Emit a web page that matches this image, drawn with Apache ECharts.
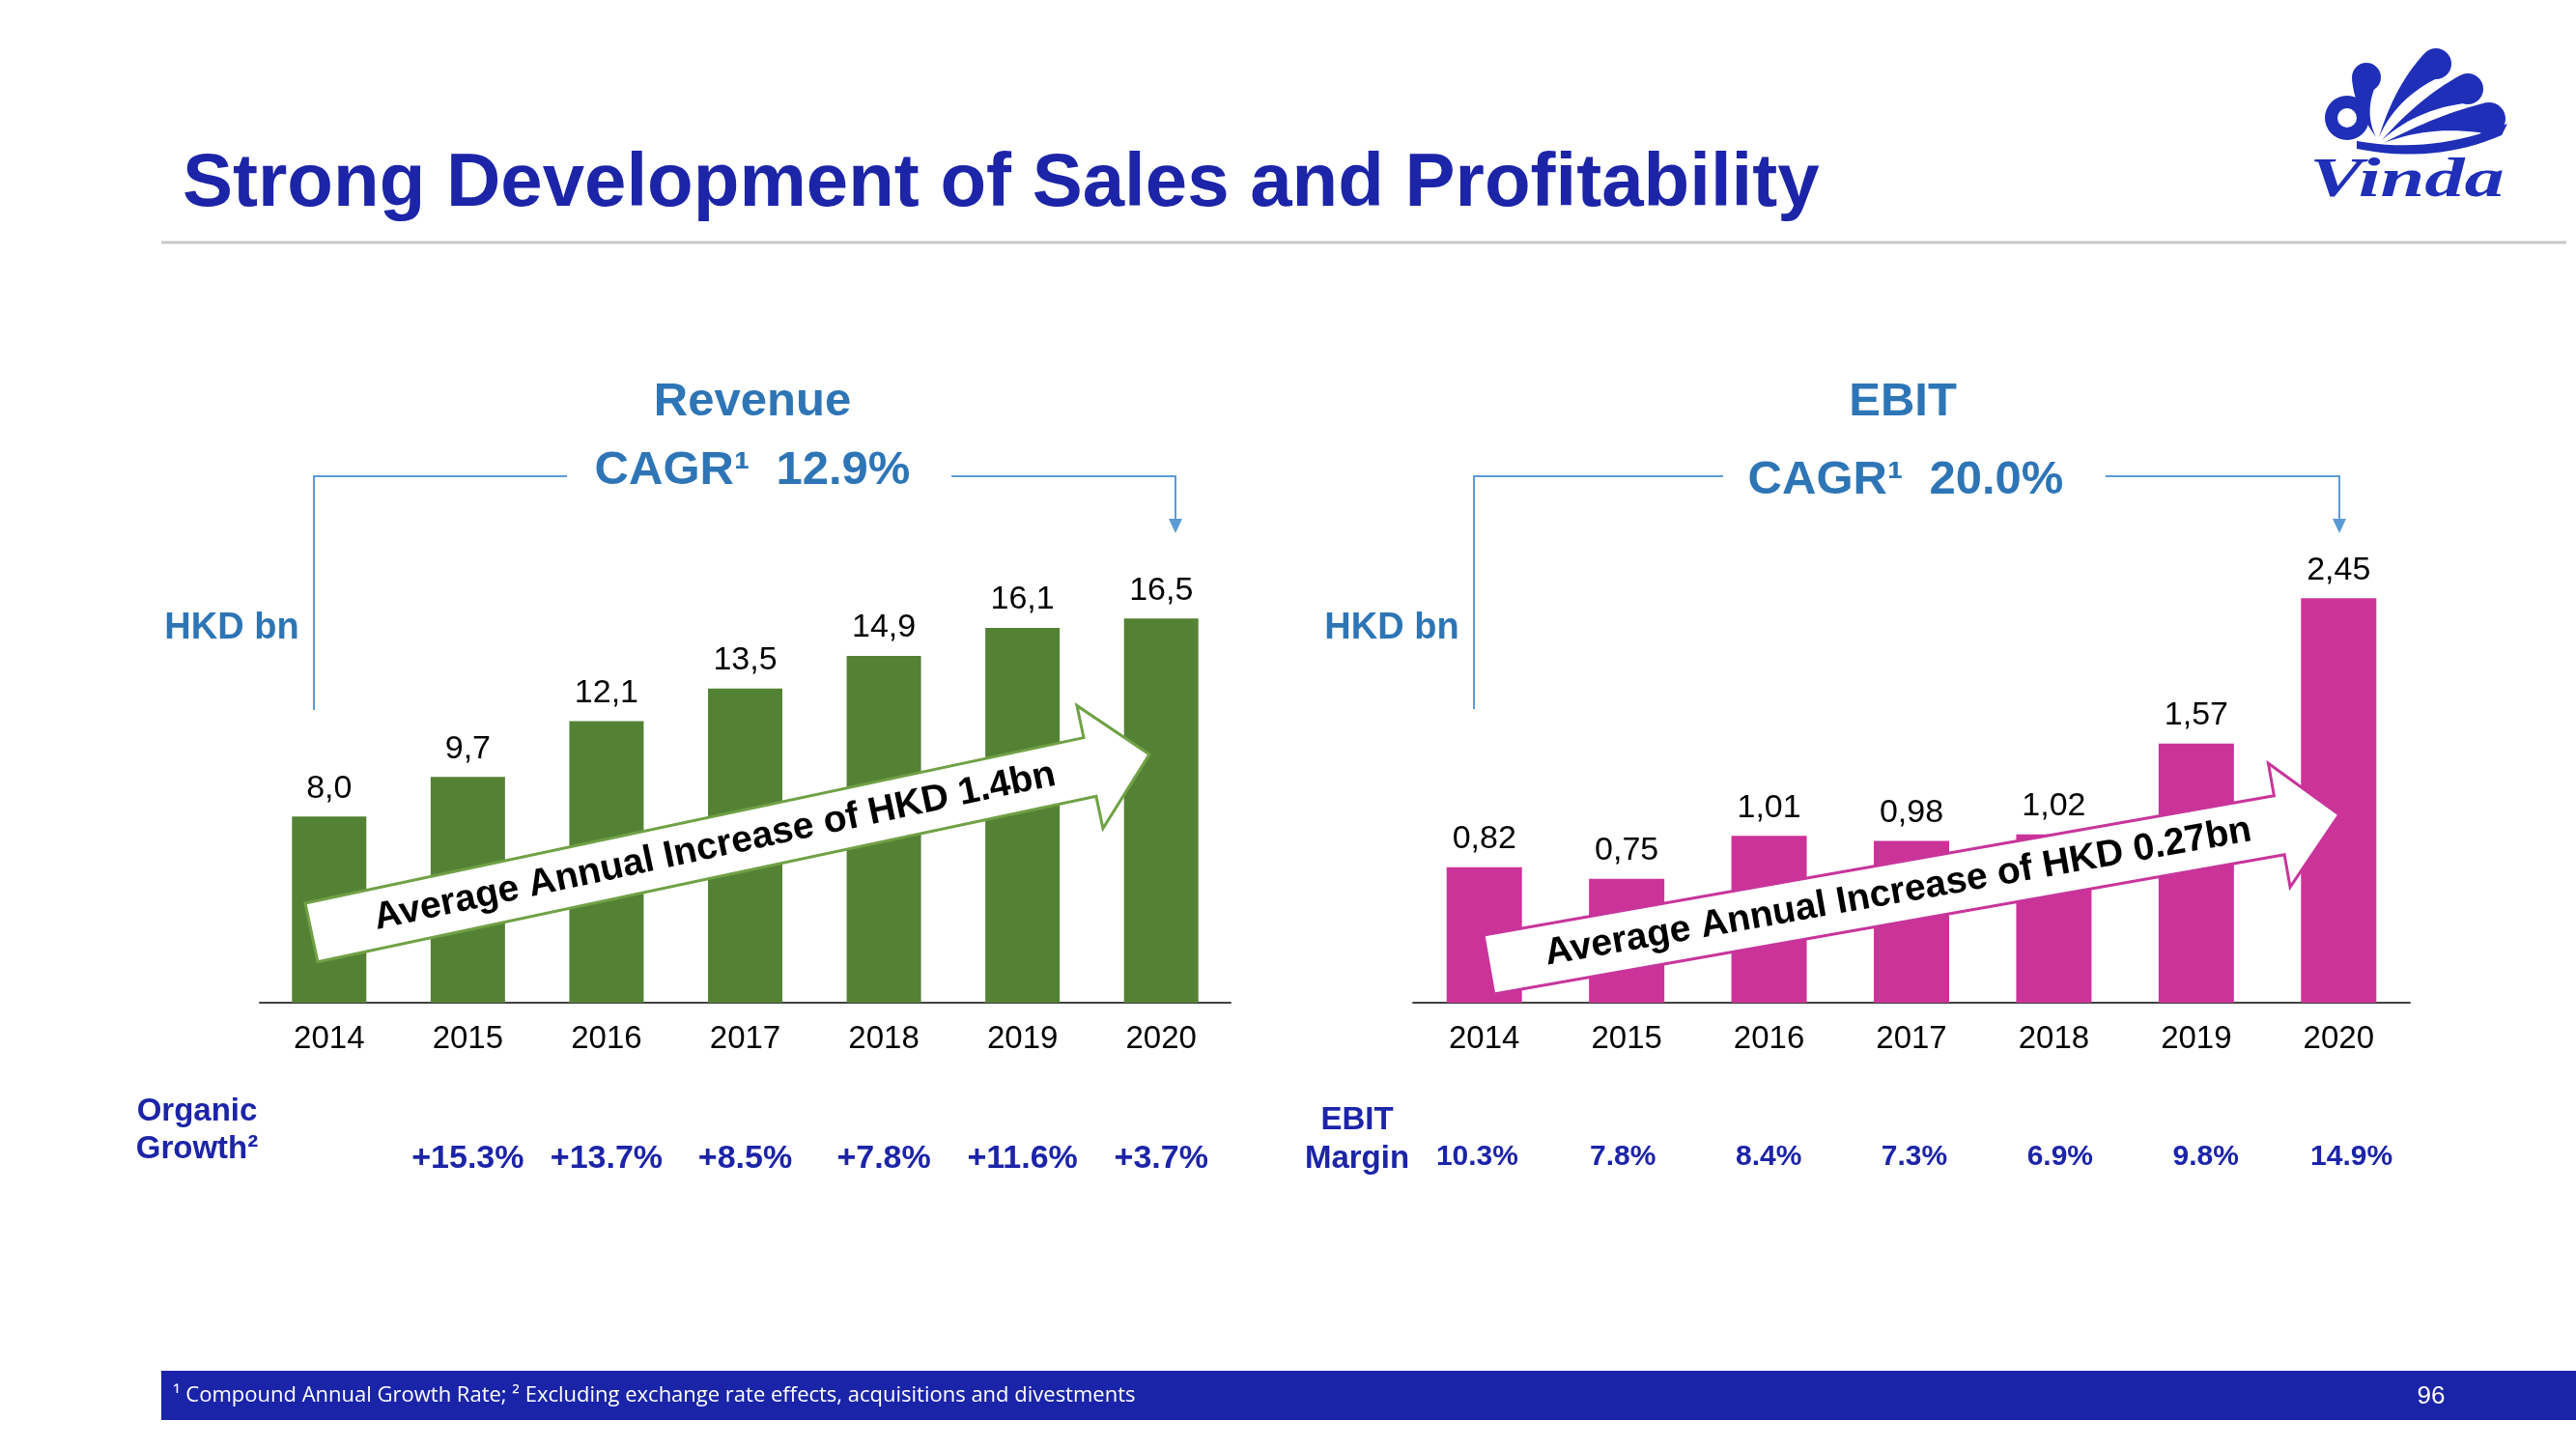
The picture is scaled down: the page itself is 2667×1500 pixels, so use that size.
<!DOCTYPE html>
<html>
<head>
<meta charset="utf-8">
<script src="https://cdn.jsdelivr.net/npm/echarts@6/dist/echarts.min.js"></script>
<style>
html,body{margin:0;padding:0;background:#fff;}
#chart{width:2667px;height:1500px;}
</style>
</head>
<body>
<div id="chart"></div>
<script>
// ---- data ----
const years = ['2014', '2015', '2016', '2017', '2018', '2019', '2020'];
const revenue = [8.0, 9.7, 12.1, 13.5, 14.9, 16.1, 16.5];
const ebit = [0.82, 0.75, 1.01, 0.98, 1.02, 1.57, 2.45];
const organicGrowth = ['', '+15.3%', '+13.7%', '+8.5%', '+7.8%', '+11.6%', '+3.7%'];
const ebitMargin = ['10.3%', '7.8%', '8.4%', '7.3%', '6.9%', '9.8%', '14.9%'];

const FONT = '"Liberation Sans", Arial, sans-serif';
const DARK = '#1c24a8';
const STEEL = '#2e75b6';
const LINE = '#5b9bd5';

function txt(text, x, y, size, color, opts) {
  opts = opts || {};
  return {
    type: 'text', x: x, y: y + 3, z: opts.z || 50,
    scaleX: opts.scaleX || 1, scaleY: opts.scaleY || 1,
    rotation: opts.rotation || 0,
    style: {
      text: text,
      font: (opts.style || '') + ' ' + (opts.weight || 'bold') + ' ' + size + 'px ' + (opts.family || FONT),
      fill: color,
      align: opts.align || 'center', textAlign: opts.align || 'center',
      verticalAlign: 'middle', textVerticalAlign: 'middle'
    }
  };
}

// quadratic bezier sampler (logo decoration only)
function quad(p0, c, p1, n) {
  const pts = [];
  for (let i = 0; i <= n; i++) {
    const t = i / n, a = (1 - t) * (1 - t), b = 2 * (1 - t) * t, d = t * t;
    pts.push([a * p0[0] + b * c[0] + d * p1[0], a * p0[1] + b * c[1] + d * p1[1]]);
  }
  return pts;
}
function petal(bx, by, tx, ty, r, bend) {
  const dx = tx - bx, dy = ty - by, L = Math.hypot(dx, dy);
  const ux = dx / L, uy = dy / L, nx = -uy, ny = ux;
  const m1 = [bx + dx * 0.5 + nx * bend, by + dy * 0.5 + ny * bend];
  const m2 = [bx + dx * 0.55 + nx * (bend - r * 0.5), by + dy * 0.55 + ny * (bend - r * 0.5)];
  const p1 = [tx + nx * r, ty + ny * r], p2 = [tx - nx * r, ty - ny * r];
  const side1 = quad([bx, by], m1, p1, 16);
  const side2 = quad(p2, m2, [bx, by], 16);
  return side1.concat(side2);
}

const LOGO = '#1f2fb8';
const logoParts = [];
[[2460, 142, 2450, 80, 15, -10], [2463, 142, 2522, 66, 16, -12], [2466, 145, 2555, 92, 16, -10], [2468, 148, 2577, 123, 17, -8]]
  .forEach(function (p) {
    logoParts.push({ type: 'polygon', z: 60, shape: { points: petal(p[0], p[1], p[2], p[3], p[4], p[5]) }, style: { fill: LOGO } });
    logoParts.push({ type: 'circle', z: 60, shape: { cx: p[2], cy: p[3], r: p[4] }, style: { fill: LOGO } });
  });
logoParts.push({ type: 'polygon', z: 60,
  shape: { points: quad([2440, 146], [2520, 160], [2596, 128], 16).concat(quad([2590, 140], [2520, 170], [2440, 154], 16)) },
  style: { fill: LOGO } });
logoParts.push({ type: 'ring', z: 60, shape: { cx: 2430, cy: 122, r: 23, r0: 10 }, style: { fill: LOGO } });
logoParts.push(txt('Vinda', 2492, 185, 58, LOGO, { family: '"Liberation Serif", serif', style: 'italic', scaleX: 1.42, z: 60 }));

function arrow(x, y, deg, len, color, label) {
  const w = 62, head = 63, barb = 34;
  return {
    type: 'group', x: x, y: y, rotation: deg * Math.PI / 180, z: 100,
    children: [
      { type: 'polygon', z: 100, shape: { points: [[0, 0], [len, 0], [len, -barb], [len + head, w / 2], [len, w + barb], [len, w], [0, w]] },
        style: { fill: '#ffffff', stroke: color, lineWidth: 3 } },
      txt(label, len / 2 + 15, 28, 39, '#000', { z: 101 })
    ]
  };
}

function bracket(xl, xa, xb, xr, yTop, yBottom) {
  return [
    { type: 'polyline', z: 40, shape: { points: [[xl, yBottom], [xl, yTop], [xa, yTop]] }, style: { stroke: LINE, lineWidth: 2, fill: null } },
    { type: 'polyline', z: 40, shape: { points: [[xb, yTop], [xr, yTop], [xr, 540]] }, style: { stroke: LINE, lineWidth: 2, fill: null } },
    { type: 'polygon', z: 40, shape: { points: [[xr - 7, 537], [xr + 7, 537], [xr, 552]] }, style: { fill: LINE } }
  ];
}

const chart = echarts.init(document.getElementById('chart'), null, { renderer: 'canvas' });

const axisYears = function (gi) {
  return {
    gridIndex: gi, type: 'category', data: years, position: 'bottom',
    axisLine: { lineStyle: { color: '#404040', width: 2 } },
    axisTick: { show: false },
    axisLabel: { interval: 0, fontSize: 33, color: '#000', margin: 21, fontFamily: FONT }
  };
};
const axisRow = function (gi, arr, size) {
  return {
    gridIndex: gi, type: 'category', data: years, position: 'bottom',
    axisLine: { show: false }, axisTick: { show: false },
    axisLabel: { interval: 0, fontSize: size, fontWeight: 'bold', color: DARK, margin: 145, fontFamily: FONT,
      formatter: function (v, i) { return arr[i]; } }
  };
};

const option = {
  animation: false,
  backgroundColor: '#ffffff',
  grid: [
    { left: 269, top: 556, width: 1005, height: 482 },
    { left: 1463, top: 556, width: 1032, height: 482 },
    { left: 1454, top: 556, width: 1056, height: 482 }
  ],
  xAxis: [axisYears(0), axisRow(0, organicGrowth, 34), axisYears(1), axisRow(2, ebitMargin, 30)],
  yAxis: [
    { gridIndex: 0, type: 'value', min: 0, max: 20, show: false },
    { gridIndex: 1, type: 'value', min: 0, max: 2.82, show: false },
    { gridIndex: 2, type: 'value', min: 0, max: 1, show: false }
  ],
  series: [
    { type: 'bar', name: 'Revenue', xAxisIndex: 0, yAxisIndex: 0, data: revenue, barWidth: 77,
      itemStyle: { color: '#548235' },
      label: { show: true, position: 'top', distance: 12, fontSize: 34, color: '#000', fontFamily: FONT,
        formatter: function (p) { return p.value.toFixed(1).replace('.', ','); } } },
    { type: 'bar', name: 'EBIT', xAxisIndex: 2, yAxisIndex: 1, data: ebit, barWidth: 78,
      itemStyle: { color: '#cc3399' },
      label: { show: true, position: 'top', distance: 12, fontSize: 34, color: '#000', fontFamily: FONT,
        formatter: function (p) { return p.value.toFixed(2).replace('.', ','); } } }
  ],
  graphic: [].concat(
    [
      txt('Strong Development of Sales and Profitability', 189, 188, 78, DARK, { align: 'left' }),
      { type: 'line', z: 40, shape: { x1: 167, y1: 251, x2: 2657, y2: 251 }, style: { stroke: '#c8c8c8', lineWidth: 3 } },
      txt('Revenue', 779, 413, 49, STEEL),
      txt('CAGR\u00b9  12.9%', 779, 484, 49, STEEL),
      txt('EBIT', 1970, 413, 49, STEEL),
      txt('CAGR\u00b9  20.0%', 1973, 494, 49, STEEL),
      txt('HKD bn', 240, 648, 38, STEEL),
      txt('HKD bn', 1441, 648, 38, STEEL),
      txt('Organic', 204, 1148, 33, DARK),
      txt('Growth\u00b2', 204, 1187, 33, DARK),
      txt('EBIT', 1405, 1157, 33, DARK),
      txt('Margin', 1405, 1197, 33, DARK),
      { type: 'rect', z: 40, shape: { x: 167, y: 1419, width: 2500, height: 51 }, style: { fill: '#1a24a8' } },
      txt('\u00b9 Compound Annual Growth Rate; \u00b2 Excluding exchange rate effects, acquisitions and divestments', 179, 1442, 22, '#ffffff', { align: 'left', weight: 'normal', family: '"Open Sans", sans-serif' }),
      txt('96', 2517, 1443, 26, '#ffffff', { weight: 'normal' }),
      arrow(316, 935, 12, 824, '#70a145', 'Average Annual Increase of HKD 1.4bn'),
      arrow(1536, 968, 10, 831, '#c8359a', 'Average Annual Increase of HKD 0.27bn')
    ],
    bracket(325, 587, 985, 1217, 493, 735),
    bracket(1526, 1784, 2180, 2422, 493, 734),
    logoParts
  )
};
chart.setOption(option);
</script>
</body>
</html>
